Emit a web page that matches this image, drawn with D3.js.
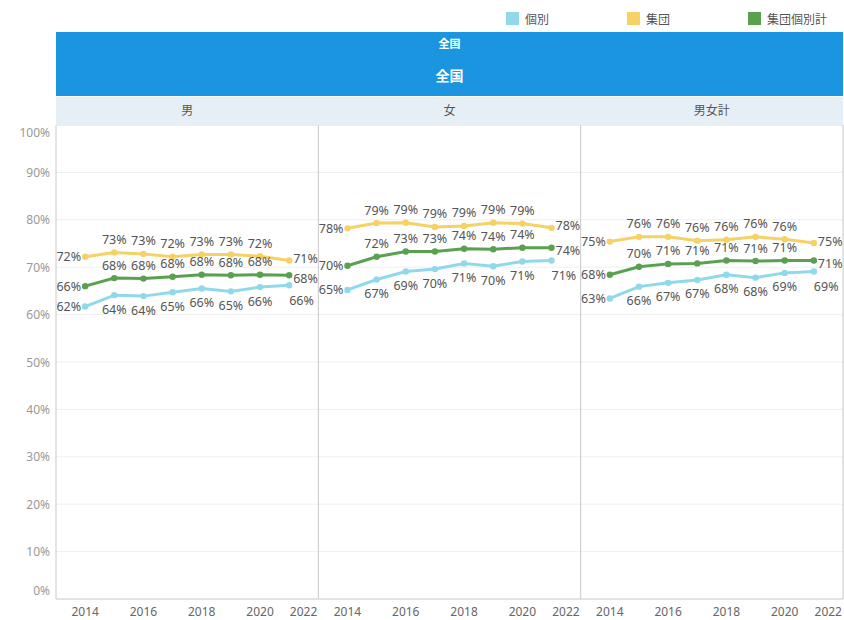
<!DOCTYPE html>
<html>
<head>
<meta charset="utf-8">
<script src="https://cdn.jsdelivr.net/npm/d3@7"></script>
<style>
  body { margin: 0; background: #fff; }
  svg { display: block; font-family: "Noto Sans", "Noto Sans CJK JP", sans-serif; }
</style>
</head>
<body>
<svg id="chart" width="844" height="620"></svg>
<script>
// data (percent)
const years = [2014, 2015, 2016, 2017, 2018, 2019, 2020, 2021]
const panels = ["男", "女", "男女計"]
const seriesNames = ["個別", "集団", "集団個別計"]
const seriesColors = ["#8fd9ea", "#f5d166", "#59a14f"]
const yTicks = [0, 10, 20, 30, 40, 50, 60, 70, 80, 90, 100]
const xTicks = [2014, 2016, 2018, 2020, 2022]

const kobetsuMale   = [61.7, 64.1, 63.9, 64.7, 65.5, 64.9, 65.8, 66.2]
const kobetsuFemale = [65.2, 67.4, 69.1, 69.6, 70.8, 70.2, 71.2, 71.4]
const kobetsuTotal  = [63.4, 65.9, 66.7, 67.3, 68.4, 67.8, 68.8, 69.1]

const shudanMale   = [72.2, 73.1, 72.8, 72.2, 72.7, 72.7, 72.3, 71.4]
const shudanFemale = [78.2, 79.3, 79.4, 78.5, 78.7, 79.4, 79.2, 78.3]
const shudanTotal  = [75.4, 76.4, 76.4, 75.6, 75.8, 76.4, 75.9, 75.1]

const goukeiMale   = [66.0, 67.7, 67.6, 68.0, 68.4, 68.3, 68.4, 68.3]
const goukeiFemale = [70.3, 72.2, 73.3, 73.3, 73.9, 73.8, 74.1, 74.1]
const goukeiTotal  = [68.4, 70.1, 70.7, 70.8, 71.4, 71.3, 71.4, 71.4]

const panelData = [
    [kobetsuMale, shudanMale, goukeiMale],
    [kobetsuFemale, shudanFemale, goukeiFemale],
    [kobetsuTotal, shudanTotal, goukeiTotal]
]

const svg = d3.select("#chart")

const left = 56, right = 843
const plotTop = 125, plotBottom = 599
const panelW = (right - left) / panels.length

// legend
const legendX = [506, 627, 748]
const legend = svg.append("g")
seriesNames.forEach((name, i) => {
    legend.append("rect")
        .attr("x", legendX[i]).attr("y", 12)
        .attr("width", 13).attr("height", 13)
        .attr("fill", seriesColors[i])
    legend.append("text")
        .attr("x", legendX[i] + 19).attr("y", 19)
        .attr("dominant-baseline", "central")
        .attr("font-size", 12).attr("fill", "#555")
        .text(name)
})

// headers
svg.append("rect").attr("x", left).attr("y", 32).attr("width", right - left).attr("height", 64).attr("fill", "#1c95e0")
svg.append("text").attr("x", (left + right) / 2).attr("y", 43).attr("text-anchor", "middle")
    .attr("dominant-baseline", "central").attr("fill", "#fff").attr("font-size", 11).attr("font-weight", "bold").text("全国")
svg.append("text").attr("x", (left + right) / 2).attr("y", 75).attr("text-anchor", "middle")
    .attr("dominant-baseline", "central").attr("fill", "#fff").attr("font-size", 14).attr("font-weight", "bold").text("全国")
svg.append("rect").attr("x", left).attr("y", 97).attr("width", right - left).attr("height", 27).attr("fill", "#e6eff5")

let y = d3.scaleLinear().domain([0, 100]).range([plotBottom, plotTop])

// y gridlines + labels
svg.append("g").selectAll("line")
    .data(yTicks.filter(d => d > 0 && d < 100))
    .join("line")
    .attr("x1", left).attr("x2", right)
    .attr("y1", d => y(d)).attr("y2", d => y(d))
    .attr("stroke", "#efefef")

svg.append("g").selectAll("text")
    .data(yTicks)
    .join("text")
    .attr("x", 50)
    .attr("y", d => Math.min(Math.max(y(d), plotTop + 7), plotBottom - 9))
    .attr("text-anchor", "end")
    .attr("dominant-baseline", "central")
    .attr("font-size", 12).attr("fill", "#999")
    .text(d => d + "%")

panels.forEach((pName, p) => {
    const x0 = left + p * panelW, x1 = x0 + panelW
    const x = d3.scaleLinear().domain([2013, 2022]).range([x0, x1])

    svg.append("text")
        .attr("x", (x0 + x1) / 2).attr("y", 110)
        .attr("text-anchor", "middle").attr("dominant-baseline", "central")
        .attr("font-size", 12).attr("fill", "#555")
        .text(pName)

    // x tick labels
    svg.append("g").selectAll("text")
        .data(xTicks)
        .join("text")
        .attr("x", d => d === 2022 ? x1 - 1 : x(d))
        .attr("y", 611)
        .attr("text-anchor", d => d === 2022 ? "end" : "middle")
        .attr("dominant-baseline", "central")
        .attr("font-size", 12).attr("fill", "#666")
        .text(d => d)

    const line = d3.line().x((d, i) => x(years[i])).y(d => y(d))

    // green drawn last so it sits on top
    const g = svg.append("g")
    const order = [1, 0, 2]
    order.forEach(s => {
        const vals = panelData[p][s]
        g.append("path")
            .attr("d", line(vals))
            .attr("fill", "none")
            .attr("stroke", seriesColors[s])
            .attr("stroke-width", 3)
        g.selectAll(null)
            .data(vals)
            .join("circle")
            .attr("cx", (d, i) => x(years[i]))
            .attr("cy", d => y(d))
            .attr("r", 3.2)
            .attr("fill", seriesColors[s])
    })

    // labels: first left, last right (kobetsu last goes below-right), kobetsu below, others above
    order.forEach(s => {
        const vals = panelData[p][s]
        const n = vals.length - 1
        g.selectAll(null)
            .data(vals)
            .join("text")
            .attr("x", (d, i) => {
                if (i === 0) return x(years[i]) - 4
                if (i === n) return x(years[i]) + (s === 0 ? 0 : 4)
                return x(years[i])
            })
            .attr("y", (d, i) => {
                if (i === 0) return y(d)
                if (i === n) return s === 0 ? y(d) + 15 : (s === 2 ? y(d) + 3 : y(d) - 2)
                return s === 0 ? y(d) + 14 : y(d) - 13
            })
            .attr("text-anchor", (d, i) => i === 0 ? "end" : (i === n ? "start" : "middle"))
            .attr("dominant-baseline", "central")
            .attr("font-size", 12.5).attr("fill", "#555")
            .text(d => Math.round(d) + "%")
    })

    if (p > 0) {
        svg.append("line")
            .attr("x1", x0).attr("x2", x0)
            .attr("y1", plotTop).attr("y2", plotBottom)
            .attr("stroke", "#c8c8c8")
    }
})

// plot frame
svg.append("line").attr("x1", left).attr("x2", left).attr("y1", plotTop).attr("y2", plotBottom).attr("stroke", "#c8c8c8")
svg.append("line").attr("x1", right).attr("x2", right).attr("y1", plotTop).attr("y2", plotBottom).attr("stroke", "#c8c8c8")
svg.append("line").attr("x1", left).attr("x2", right).attr("y1", plotBottom).attr("y2", plotBottom).attr("stroke", "#c8c8c8")
svg.append("line").attr("x1", left).attr("x2", right).attr("y1", plotTop).attr("y2", plotTop).attr("stroke", "#d6dde2")
</script>
</body>
</html>
